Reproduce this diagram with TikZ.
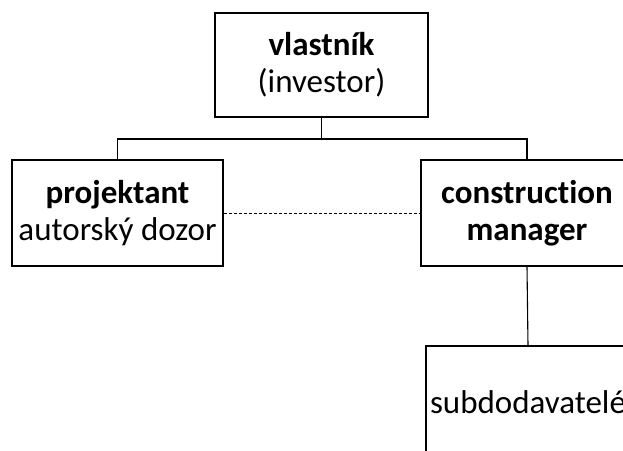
\documentclass[tikz,border=0pt]{standalone}
\usepackage{fontspec}
\setmainfont{Carlito}[Ligatures=NoCommon]
\begin{document}
\begin{tikzpicture}[x=1pt,y=1pt,
  box/.style={draw=black,line width=1.7pt,inner sep=0pt,align=center,
    font=\fontsize{33}{37}\selectfont},
  thinbox/.style={draw=black,line width=1.1pt,inner sep=0pt,align=center,
    font=\fontsize{33}{37}\selectfont},
  link/.style={draw=black,line width=1.5pt},
  thinlink/.style={draw=black,line width=1.1pt},
  dashlink/.style={draw=black,line width=0.8pt,dash pattern=on 3pt off 2pt}]
  \useasboundingbox (0,0) rectangle (623,-450);
  \clip (0,0) rectangle (623,-450);

  % organisation boxes
  \node[box,minimum width=213,minimum height=104] (owner) at (321.5,-65)
    {\textbf{vlastník}\\(investor)};
  \node[box,minimum width=211,minimum height=106] (designer) at (117.5,-213)
    {\textbf{projektant}\\autorský dozor};
  \node[box,minimum width=212,minimum height=106] (cm) at (527,-213)
    {\textbf{construction}\\\textbf{manager}};
  \node[thinbox,minimum width=204,minimum height=112] (subs) at (528,-402)
    {subdodavatelé};

  % reporting lines
  \draw[link] (owner.south) -- ++(0,-21) coordinate (junction);
  \draw[link] (designer.north) |- (junction) -| (cm.north);
  \draw[dashlink] (designer.east) -- (cm.west);
  \draw[thinlink] (cm.south) -- (subs.north);
\end{tikzpicture}
\end{document}
